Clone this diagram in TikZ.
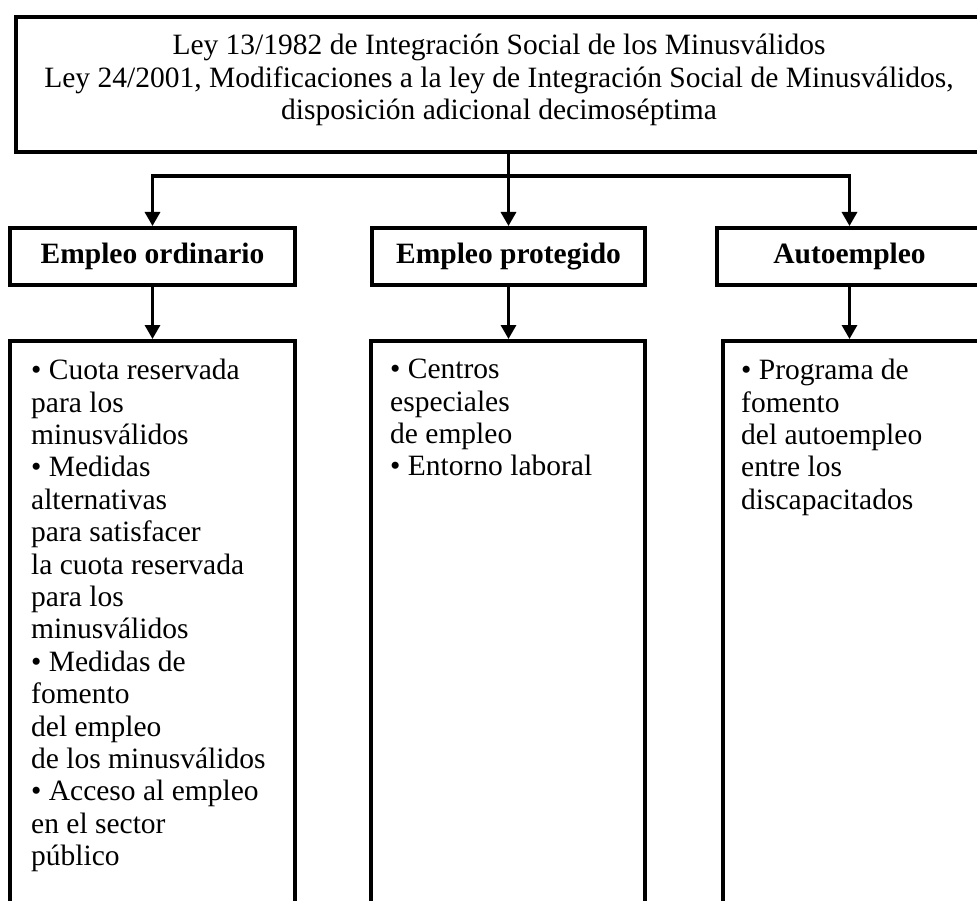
\documentclass[tikz,border=0pt]{standalone}
\usepackage{fontspec}
\setmainfont{Liberation Serif}
\usepackage{tikz}
\usetikzlibrary{arrows.meta, positioning, calc}
\tikzset{
  box/.style={draw, line width=4pt, inner sep=0pt},
  headbox/.style={box, minimum height=57pt, font=\fontsize{29.5}{32.4}\selectfont\bfseries},
  listbox/.style={box, minimum height=600pt, anchor=north},
  itemtext/.style={anchor=north west, inner sep=0pt, align=left, font=\fontsize{29.5}{32.4}\selectfont},
  flow/.style={line width=3.2pt, -{Triangle[width=15pt,length=14pt]}},
}

\begin{document}
\begin{tikzpicture}[x=1pt,y=-1pt]%
  \useasboundingbox (0,0) rectangle (977,901);
  \clip (0,0) rectangle (977,901);
  % ley
  \node[box, minimum width=969pt, minimum height=135pt] (ley) at (500.5,84.5) {};
  \node[inner sep=0pt, align=center, font=\fontsize{29.5}{32.4}\selectfont] (leytext) at (499,80)
    {Ley 13/1982 de Integración Social de los Minusválidos\\
     Ley 24/2001, Modificaciones a la ley de Integración Social de Minusválidos,\\
     disposición adicional decimoséptima};
  % tipos de empleo
  \node[headbox, minimum width=285pt] (ordinario) at (152.5,256.5) {Empleo ordinario};
  \node[headbox, minimum width=273pt] (protegido) at (508.5,256.5) {Empleo protegido};
  \node[headbox, minimum width=265pt] (autoempleo) at (849.5,256.5) {Autoempleo};
  % medidas
  \node[listbox, minimum width=285pt] (lordinario) at (152.5,339) {};
  \node[listbox, minimum width=274pt] (lprotegido) at (508,339) {};
  \node[listbox, minimum width=262pt] (lautoempleo) at (854,339) {};
  \node[itemtext] (tordinario) at ([shift={(23pt,-20pt)}]lordinario.north west)
    {• Cuota reservada\\para los\\minusválidos\\• Medidas\\alternativas\\para satisfacer\\
     la cuota reservada\\para los\\minusválidos\\• Medidas de\\fomento\\del empleo\\
     de los minusválidos\\• Acceso al empleo\\en el sector\\público};
  \node[itemtext] (tprotegido) at ([shift={(21pt,-20pt)}]lprotegido.north west)
    {• Centros\\especiales\\de empleo\\• Entorno laboral};
  \node[itemtext] (tautoempleo) at ([shift={(20pt,-20pt)}]lautoempleo.north west)
    {• Programa de\\fomento\\del autoempleo\\entre los\\discapacitados};
  % conectores
  \coordinate (busL) at (ordinario.north |- 0,176);
  \coordinate (busR) at (autoempleo.north |- 0,176);
  \draw[flow] (busR) -- (busL) -- (ordinario.north);
  \draw[flow] (busL) -- (busR) -- (autoempleo.north);
  \draw[flow] (protegido.north |- ley.south) -- (protegido.north);
  \foreach \n in {ordinario,protegido,autoempleo}
    \draw[flow] (\n.south) -- (\n.south |- l\n.north);
\end{tikzpicture}
\end{document}
